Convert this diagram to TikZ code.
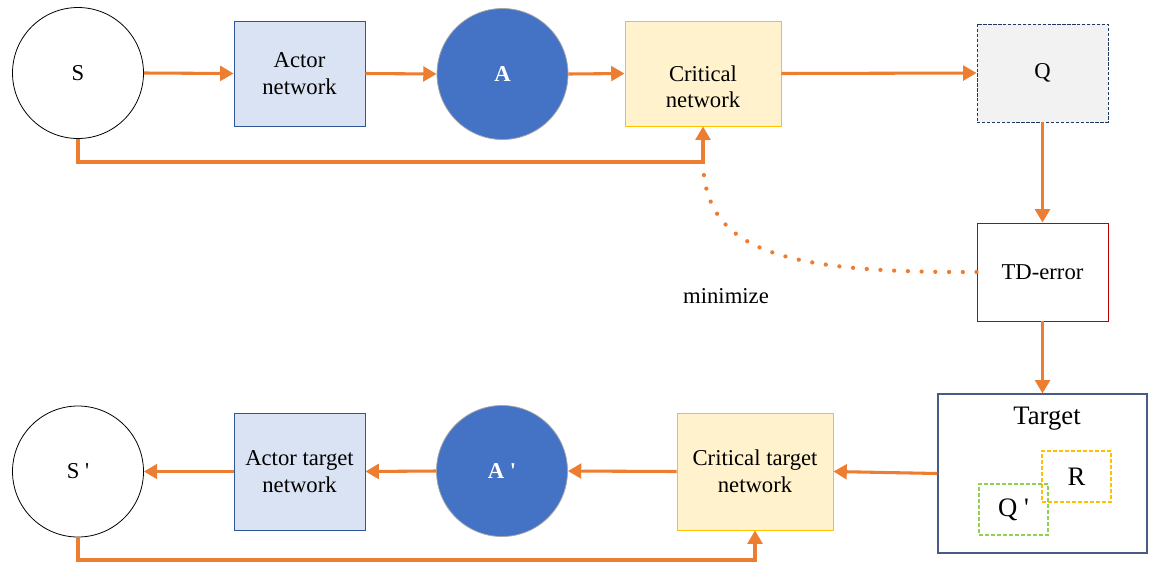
\documentclass[tikz,border=0pt]{standalone}
\usepackage{fontspec}
\setmainfont{Liberation Serif}
\usetikzlibrary{arrows.meta}
\definecolor{org}{HTML}{ED7D31}
\definecolor{dkblue}{HTML}{2F5597}
\definecolor{ltblue}{HTML}{DAE3F3}
\definecolor{cfill}{HTML}{FFF2CC}
\definecolor{cdraw}{HTML}{FFC000}
\definecolor{qfill}{HTML}{F2F2F2}
\definecolor{qdraw}{HTML}{203864}
\definecolor{tdred}{HTML}{C00000}
\definecolor{tgdraw}{HTML}{4A5A86}
\definecolor{afill}{HTML}{4472C4}
\definecolor{qgreen}{HTML}{92D050}
\begin{document}
\begin{tikzpicture}[x=0.75pt,y=-0.75pt,
  base/.style={font=\fontsize{17}{20}\selectfont, align=center, inner sep=0pt},
  circw/.style={base, circle, draw=black, line width=0.6pt, minimum size=98.25pt},
  circb/.style={base, circle, draw=gray!70, fill=afill, text=white, line width=0.6pt, minimum size=98.25pt},
  actbox/.style={base, draw=dkblue, fill=ltblue, line width=0.7pt, minimum width=98.25pt},
  critbox/.style={base, draw=cdraw, fill=cfill, line width=0.7pt, minimum width=117pt},
  qbox/.style={base, draw=qdraw, fill=qfill, line width=0.7pt, dash pattern=on 2.5pt off 1.2pt, minimum width=98.25pt, minimum height=73.5pt},
  tdbox/.style={base, draw=tdred, line width=0.7pt, minimum width=98.25pt, minimum height=73.5pt},
  tgbox/.style={draw=tgdraw, line width=0.8pt, minimum width=156.75pt, minimum height=119.25pt, inner sep=0pt},
  smallbox/.style={font=\fontsize{20}{24}\selectfont, line width=0.8pt, dash pattern=on 3pt off 1.5pt, minimum width=51.75pt, minimum height=38.25pt, inner sep=0pt},
  flow/.style={draw=org, line width=2.3pt, -{Triangle[length=10pt,width=11pt]}},
  dotline/.style={draw=org, line width=3.2pt, line cap=round, dash pattern=on 0pt off 10.3pt}
]
\useasboundingbox (0,0) rectangle (1157,562);

% top row
\node[circw] (s) at (78,73) {S};
\node[actbox, minimum height=78.75pt] (an) at (299.5,73.5) {Actor\\network};
\node[circb] (a) at (502.5,74) {\textbf{A}};
\node[critbox, minimum height=78.75pt, label={[base, yshift=-10pt]center:Critical\\network}] (cn) at (703,73.5) {};
\node[qbox] (q) at (1042.5,73) {Q};

% right column
\node[tdbox] (td) at (1042.5,272) {TD-error};
\node[tgbox] (tg) at (1042.5,473.5) {};
\node[font=\fontsize{20}{24}\selectfont, inner sep=0pt] (tgl) at (1047,419) {Target};
\node[smallbox, draw=cdraw] (r) at (1076.5,476.5) {R};
\node[smallbox, draw=qgreen] (qp) at (1013.5,509.5) {Q \textquotesingle};

% bottom row
\node[critbox, minimum height=87.75pt] (ctn) at (755,471.5) {Critical target\\network};
\node[circb] (a2) at (502,471) {\textbf{A \textquotesingle}};
\node[actbox, minimum height=87.75pt] (atn) at (299.5,471.5) {Actor target\\network};
\node[circw] (s2) at (78,471.5) {S \textquotesingle};

\node[base] (mini) at (726,296) {minimize};

\coordinate (fb) at (703,162);
\coordinate (fb2) at (755,560);

% connectors top
\draw[flow] (s.east) -- (an.west);
\draw[flow] (an.east) -- (a.west);
\draw[flow] (a.east) -- (cn.west);
\draw[flow] (cn.east) -- (q.west);
\draw[flow] (s.south) |- (fb) -- (cn.south);

% right column
\draw[flow] (q.south) -- (td.north);
\draw[flow] (td.south) -- (tg.north);

% bottom
\draw[flow] (tg.west) -- (ctn.east);
\draw[flow] (ctn.west) -- (a2.east);
\draw[flow] (a2.west) -- (atn.east);
\draw[flow] (atn.west) -- (s2.east);
\draw[flow] (s2.south) |- (fb2) -- (ctn.south);

% dotted minimize curve
\draw[dotline] (td.west) .. controls (780,273) and (705,250) .. (fb);
\end{tikzpicture}
\end{document}
